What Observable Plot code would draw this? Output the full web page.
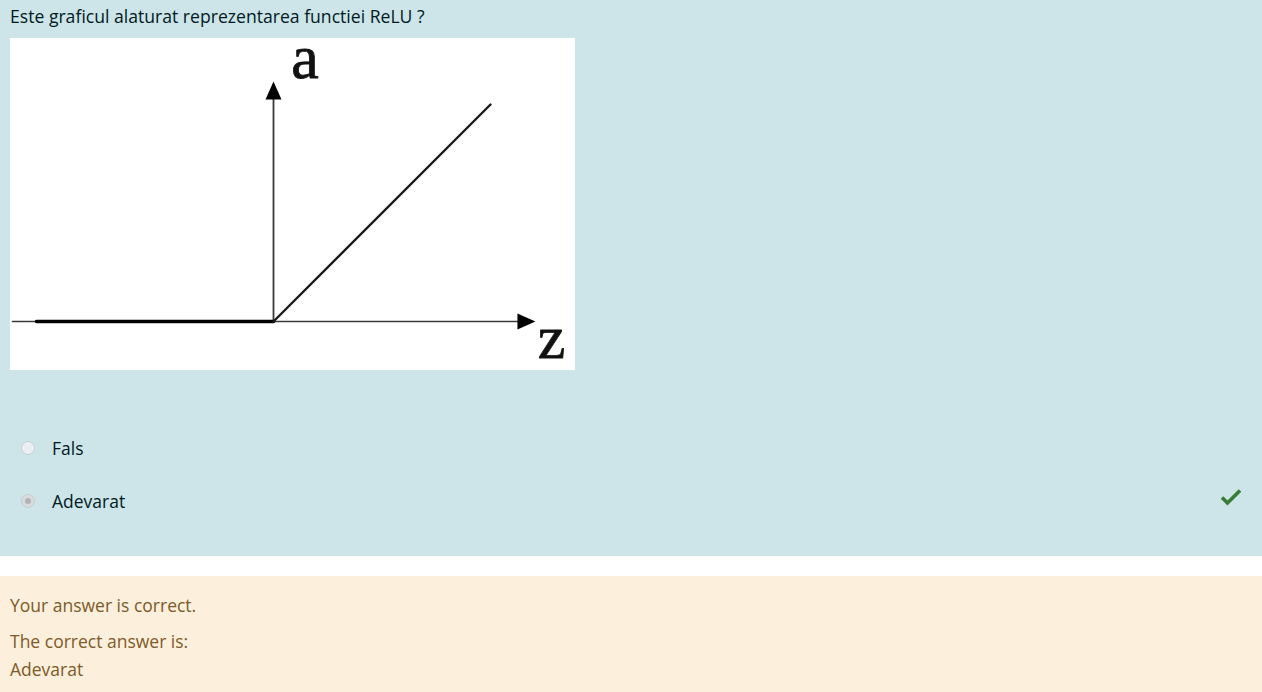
<!DOCTYPE html>
<html>
<head>
<meta charset="utf-8">
<script src="https://cdn.jsdelivr.net/npm/d3@7"></script>
<script src="https://cdn.jsdelivr.net/npm/@observablehq/plot@0.6"></script>
<style>
  html, body { margin: 0; padding: 0; width: 1262px; height: 692px; overflow: hidden; background: #fff; font-family: "Open Sans", "Noto Sans", sans-serif; }
  .formulation { position: absolute; left: 0; top: 0; width: 1262px; height: 556px; background: #cde5e9; color: #001a1e; }
  .qtext { position: absolute; left: 10px; top: 4px; font-size: 17.6px; white-space: nowrap; }
  #chart { position: absolute; left: 10px; top: 38px; width: 565px; height: 332px; background: #fff; }
  .opt { position: absolute; left: 52px; font-size: 17.5px; white-space: nowrap; }
  .radio { position: absolute; left: 21px; width: 14px; height: 14px; border-radius: 50%; border: 1px solid #c8cdd0; background: #e9eef0; box-sizing: border-box; }
  .radio.checked::after { content: ""; position: absolute; left: 3px; top: 3px; width: 6px; height: 6px; border-radius: 50%; background: #b0b4b6; }
  .radio.checked { background: #d9dcdd; }
  .tick { position: absolute; left: 1220px; top: 488px; }
  .outcome { position: absolute; left: 0; top: 576px; width: 1262px; height: 116px; background: #fcefdc; color: #7d5a29; font-size: 17.5px; }
  .outcome div { position: absolute; left: 10px; white-space: nowrap; }
</style>
</head>
<body>
<div class="formulation">
  <div class="qtext">Este graficul alaturat reprezentarea functiei ReLU ?</div>
  <div id="chart"></div>
  <div class="radio" style="top:441px"></div>
  <div class="opt" style="top:436px">Fals</div>
  <div class="radio checked" style="top:494px"></div>
  <div class="opt" style="top:489px">Adevarat</div>
  <svg class="tick" width="22" height="18" viewBox="0 0 22 18"><path d="M2 9.5 L7.5 15 L20 2.5" fill="none" stroke="#3a7d34" stroke-width="3.6"/></svg>
</div>
<div class="outcome">
  <div style="top:17px">Your answer is correct.</div>
  <div style="top:53px">The correct answer is:</div>
  <div style="top:81px">Adevarat</div>
</div>
<script>
// ReLU curve: a = max(0, z)
const reluNegZ = [-1.092, 0];
const reluNegA = [0, 0];
const reluPosZ = [0, 1.0];
const reluPosA = [0, 1.0];
// axes (z horizontal, a vertical) and arrowheads
const axisZ = [-1.203, 1.13];
const axisA = [0, 1.03];
const arrowHeads = [
  {z: 0, a: 1.023, rot: 0},
  {z: 1.124, a: 0, rot: 90}
];
// axis labels
const labels = [
  {text: "a", z: 0.145, a: 1.124},
  {text: "z", z: 1.281, a: -0.166}
];

const neg = reluNegZ.map((z, i) => ({z, a: reluNegA[i]}));
const pos = reluPosZ.map((z, i) => ({z, a: reluPosA[i]}));
const hAxis = axisZ.map(z => ({z, a: 0}));
const vAxis = axisA.map(a => ({z: 0, a}));

const arrowSymbol = {
  draw(context, size) {
    context.moveTo(0, -18);
    context.lineTo(8, 0);
    context.lineTo(-8, 0);
    context.closePath();
  }
};

const chart = Plot.plot({
  width: 565,
  height: 332,
  margin: 0,
  style: {background: "#fff", overflow: "visible"},
  x: {domain: [-263 / 217, 302 / 217], axis: null},
  y: {domain: [-49 / 217, 283 / 217], axis: null},
  marks: [
    Plot.line(hAxis, {x: "z", y: "a", stroke: "#3a3a3a", strokeWidth: 1.6}),
    Plot.line(vAxis, {x: "z", y: "a", stroke: "#3a3a3a", strokeWidth: 1.8}),
    Plot.line(neg, {x: "z", y: "a", stroke: "#000", strokeWidth: 3.6}),
    Plot.line(pos, {x: "z", y: "a", stroke: "#1a1a1a", strokeWidth: 2.4}),
    Plot.dot(arrowHeads, {x: "z", y: "a", symbol: arrowSymbol, rotate: "rot", fill: "#000", stroke: "none"}),
    Plot.text(labels, {x: "z", y: "a", text: "text", fontSize: 62, fontFamily: "Liberation Serif, DejaVu Serif, serif", fill: "#111", stroke: "#111", strokeWidth: 0.8, textAnchor: "middle", lineAnchor: "bottom"})
  ]
});
document.getElementById("chart").appendChild(chart);
</script>
</body>
</html>
